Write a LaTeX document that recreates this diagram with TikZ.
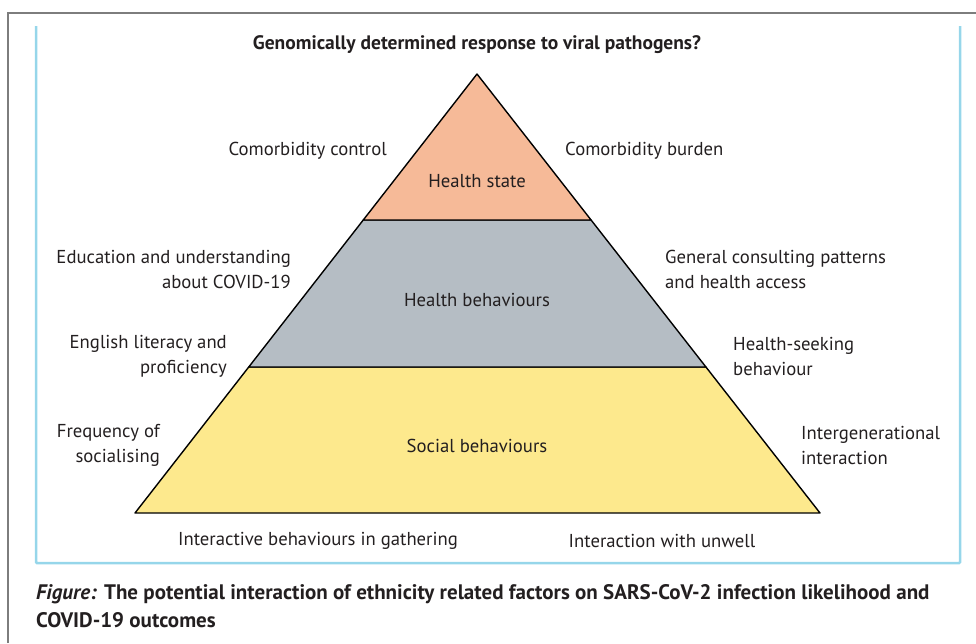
\documentclass[tikz,border=0pt]{standalone}
\usepackage{fontspec}
\setmainfont{PT Sans}
\usetikzlibrary{calc}
\definecolor{statefill}{RGB}{246,186,152}
\definecolor{behavfill}{RGB}{181,189,196}
\definecolor{socialfill}{RGB}{253,233,141}
\definecolor{framegray}{RGB}{125,125,125}
\definecolor{boxblue}{RGB}{150,214,234}
\definecolor{ink}{RGB}{35,31,32}
\newcommand{\labfont}{\fontsize{18.7}{25}\selectfont}
\newcommand{\capfont}{\fontsize{21}{28}\selectfont\bfseries}

\begin{document}
\begin{tikzpicture}[x=1pt, y=-1pt, inner sep=0pt, text=ink]
    \tikzset{%
      lab/.style={font=\labfont},
      labwest/.style={lab, anchor=east, align=right},
      labeast/.style={lab, anchor=west, align=left},
      layer/.style={draw=black, line width=1.4pt, line join=round}
      }
    \useasboundingbox (0,0) rectangle (976,643);
    \draw [framegray, line width=2pt] (8,643) -- (8,13) -- (976,13);
    \draw [boxblue, line width=2.5pt, rounded corners=1pt] (36,26) -- (36,563) -- (960,563) -- (960,26);

    \coordinate (apex) at (477,74);
    \coordinate (bl) at (135,513);
    \coordinate (br) at (820,513);
    \coordinate (sl) at ($(apex)!0.3326!(bl)$);
    \coordinate (sr) at ($(apex)!0.3326!(br)$);
    \coordinate (hl) at ($(apex)!0.6674!(bl)$);
    \coordinate (hr) at ($(apex)!0.6674!(br)$);

    \filldraw [layer, fill=socialfill] (hl) -- (bl) -- (br) -- (hr) -- cycle;
    \filldraw [layer, fill=behavfill] (sl) -- (hl) -- (hr) -- (sr) -- cycle;
    \filldraw [layer, fill=statefill] (apex) -- (sl) -- (sr) -- cycle;

    \node [font=\fontsize{19.5}{22}\selectfont\bfseries] (Xgen) at (477,45) {Genomically determined response to viral pathogens?};

    \node [lab] (Xstate) at (477,181) {Health state};
    \node [lab] (Xbehav) at (477,300) {Health behaviours};
    \node [lab] (Xsocial) at (477,446) {Social behaviours};

    \node [labwest] (Xcoctl) at (387,151) {Comorbidity control};
    \node [labeast] (Xcobur) at (565,151) {Comorbidity burden};
    \node [labwest] (Xedu) at (291,269) {Education and understanding\\about COVID-19};
    \node [labeast] (Xgp) at (665,269) {General consulting patterns\\and health access};
    \node [labwest] (Xeng) at (227,356) {English literacy and\\proficiency};
    \node [labeast] (Xseek) at (733,356) {Health-seeking\\behaviour};
    \node [labwest] (Xfreq) at (160,445) {Frequency of\\socialising};
    \node [labeast] (Xinter) at (801,445) {Intergenerational\\interaction};
    \node [lab] (Xgath) at (318,541) {Interactive behaviours in gathering};
    \node [lab] (Xunw) at (662,541) {Interaction with unwell};

    \node [font=\capfont, anchor=west, align=left] (Xcap) at (36,606) {\textit{Figure:} The potential interaction of ethnicity related factors on SARS-CoV-2 infection likelihood and\\COVID-19 outcomes};
  \end{tikzpicture}
\end{document}
